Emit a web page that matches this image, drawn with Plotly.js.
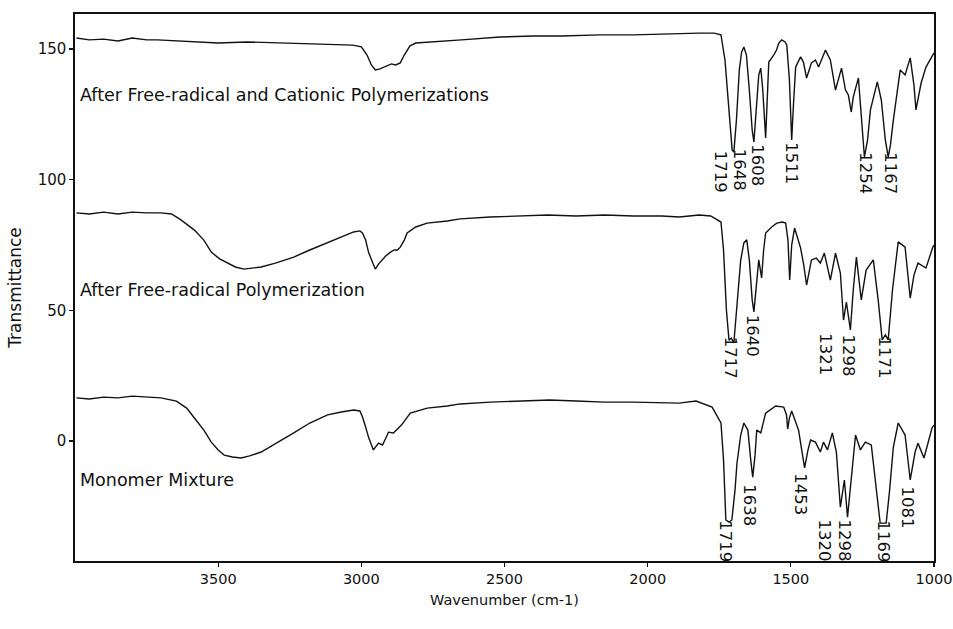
<!DOCTYPE html>
<html>
<head>
<meta charset="utf-8">
<script src="https://cdn.plot.ly/plotly-3.0.1.min.js"></script>
<style>html,body{margin:0;padding:0;background:#fff;}#chart{width:953px;height:629px;}</style>
</head>
<body>
<div id="chart"></div>
<script>
// ---- Data ----
// Series 1: After Free-radical and Cationic Polymerizations
var wnTop = [3995,3950,3900,3850,3800,3750,3712,3650,3600,3500,3400,3300,3200,3100,3030,3000,2980,2965,2951,2935,2915,2895,2880,2864,2850,2830,2810,2750,2650,2516,2400,2300,2168,2050,1950,1890,1820,1768,1744,1730,1715,1705,1699,1690,1680,1672,1664,1655,1645,1635,1629,1620,1612,1605,1598,1588,1582,1577,1560,1550,1542,1532,1520,1514,1505,1497,1490,1483,1466,1456,1445,1428,1414,1403,1379,1362,1344,1323,1309,1299,1289,1282,1264,1254,1243,1232,1222,1198,1184,1170,1160,1152,1142,1118,1101,1083,1070,1063,1045,1028,1010,1000];
var trTop = [154.2,153.5,153.8,153.1,154.2,153.5,153.5,153.1,152.7,152.3,152.7,152.3,151.9,151.5,151.5,150.8,147.7,143.9,142.0,142.4,143.5,144.3,143.9,144.7,147.7,151.2,152.3,152.7,153.5,154.6,155.0,155.0,155.4,155.4,155.8,156.1,156.1,156.1,155.4,145.8,122.8,111.4,110.6,122.8,141.9,148.8,150.8,147.7,134.3,119.0,114.4,126.7,140.1,142.7,134.3,116.0,130.5,145.0,147.7,149.6,152.3,153.5,152.7,151.5,138.2,115.2,130.5,143.1,147.0,145.0,138.9,144.7,145.8,143.1,149.6,145.8,134.3,142.7,134.3,132.4,125.9,131.6,138.9,122.8,108.7,115.2,126.7,137.4,130.5,115.2,108.7,113.3,122.8,142.0,140.1,146.6,136.2,126.7,137.0,143.1,146.6,148.5];

// Series 2: After Free-radical Polymerization
var wnMid = [3995,3950,3900,3850,3800,3750,3700,3663,3630,3583,3550,3524,3495,3465,3440,3410,3380,3350,3300,3236,3180,3118,3070,3027,3005,2996,2985,2975,2960,2951,2940,2933,2915,2898,2885,2874,2864,2850,2840,2810,2770,2700,2655,2550,2450,2350,2250,2150,2050,1950,1890,1820,1780,1744,1735,1725,1716,1708,1699,1690,1675,1664,1654,1645,1635,1629,1620,1612,1602,1595,1588,1567,1549,1530,1518,1510,1504,1497,1487,1466,1455,1445,1428,1411,1397,1383,1362,1344,1327,1316,1306,1292,1282,1271,1254,1237,1212,1195,1181,1170,1160,1145,1125,1101,1083,1070,1056,1028,1004,1000];
var trMid = [87.3,86.9,87.6,86.9,87.6,87.3,87.3,86.9,84.6,80.7,76.9,72.3,69.7,68.1,66.6,65.8,66.2,66.6,68.1,70.4,73.1,75.8,78.1,80.0,80.4,79.6,76.9,72.3,68.1,65.8,67.7,68.5,70.8,72.3,73.1,73.1,74.2,76.9,79.6,81.9,83.4,84.2,85.0,85.7,86.1,86.5,86.1,86.5,86.1,86.1,85.7,86.5,86.1,83.8,73.1,50.1,38.6,39.4,37.5,50.1,69.3,75.8,77.0,69.3,54.0,49.4,61.6,69.3,62.4,73.1,79.6,81.9,83.4,83.8,83.4,76.9,61.6,75.0,81.5,73.9,67.4,59.7,69.3,70.0,68.1,71.9,61.6,71.9,64.3,46.3,53.2,42.5,57.8,70.4,54.0,65.4,69.3,54.0,38.7,40.6,38.7,57.8,76.2,74.2,54.7,63.5,68.1,66.2,74.2,75.0];

// Series 3: Monomer Mixture
var wnBot = [3995,3950,3900,3850,3800,3750,3700,3646,3610,3583,3550,3524,3500,3479,3450,3420,3390,3350,3300,3236,3180,3118,3070,3027,3005,2996,2985,2975,2958,2940,2926,2905,2888,2860,2829,2770,2700,2655,2550,2450,2342,2250,2150,2050,1950,1890,1831,1775,1744,1735,1727,1716,1706,1695,1688,1675,1664,1650,1640,1633,1625,1619,1605,1588,1553,1525,1515,1511,1505,1497,1473,1460,1452,1440,1431,1414,1397,1386,1372,1355,1341,1327,1313,1302,1290,1274,1257,1240,1219,1200,1188,1167,1155,1142,1125,1101,1083,1066,1056,1035,1014,1007,1000];
var trBot = [16.5,16.1,16.8,16.5,17.2,16.8,16.5,15.3,12.6,8.8,4.2,-0.4,-3.4,-5.4,-6.1,-6.5,-5.7,-4.2,-1.1,3.1,6.9,10.0,11.1,11.9,11.5,9.2,5.4,1.5,-3.4,-0.8,-1.5,3.4,3.1,6.1,10.7,12.6,13.4,14.2,14.9,15.3,15.7,15.3,14.9,14.9,14.5,14.5,15.3,13.0,6.9,-7.3,-30.2,-31.0,-30.2,-18.8,-8.4,2.3,6.9,4.2,-7.3,-13.8,-5.4,4.2,3.1,10.7,13.4,13.0,10.0,4.6,8.8,11.5,4.2,-5.4,-10.3,-3.4,0.4,-0.4,-4.2,-0.4,-3.4,3.1,-4.2,-25.3,-14.9,-29.1,-14.9,2.3,-3.4,-0.4,-1.5,-18.8,-31.4,-31.4,-18.8,-2.3,6.9,2.3,-14.9,-4.2,-0.8,-6.5,1.5,5.0,6.1];

// Series names and where they are written
var seriesNames = ["After Free-radical and Cationic Polymerizations", "After Free-radical Polymerization", "Monomer Mixture"];
var seriesNameY = [132.4, 57.8, -14.9];

// Peak labels (text, wavenumber of label centre, transmittance of label centre)
var peakText = ["1719","1648","1608","1511","1254","1167",
                "1717","1640","1321","1298","1171",
                "1719","1638","1453","1320","1298","1169","1081"];
var peakX = [1743,1677,1615,1500,1242,1155,
             1712,1635,1378,1298,1172,
             1727,1643,1465,1382,1312,1176,1092];
var peakY = [102.9,103.7,105.6,106.4,102.6,102.6,
             31.8,40.2,33.3,32.9,32.1,
             -38.3,-24.5,-20.3,-37.9,-37.9,-38.3,-25.3];

// Axis ticks
var xTicks = [3500,3000,2500,2000,1500,1000];
var yTicks = [0,50,100,150];

// ---- Build the chart ----
var FONT = "DejaVu Sans, Liberation Sans, sans-serif";
var INK = "#111";
var lineStyle = {color:INK, width:1.4};
var traces = [
  {x: wnTop, y: trTop, mode:"lines", line: lineStyle, name: seriesNames[0]},
  {x: wnMid, y: trMid, mode:"lines", line: lineStyle, name: seriesNames[1]},
  {x: wnBot, y: trBot, mode:"lines", line: lineStyle, name: seriesNames[2]}
];

var annotations = [];
for (var i = 0; i < seriesNames.length; i++) {
  annotations.push({x: 3988, y: seriesNameY[i], xref:"x", yref:"y", text: seriesNames[i],
    showarrow:false, xanchor:"left", yanchor:"middle", font:{family:FONT, size:17.5, color:INK}});
}
for (var j = 0; j < peakText.length; j++) {
  annotations.push({x: peakX[j], y: peakY[j], xref:"x", yref:"y", text: peakText[j],
    showarrow:false, textangle:90, xanchor:"center", yanchor:"middle",
    font:{family:FONT, size:16.5, color:INK}});
}

var layout = {
  width: 953, height: 629,
  margin: {l:75, r:19, t:14, b:68},
  paper_bgcolor:"#fff", plot_bgcolor:"#fff",
  showlegend:false,
  font:{family:FONT, color:INK},
  xaxis:{
    range:[4000,1000], tickvals:xTicks, ticks:"outside", ticklen:4, tickwidth:1.2, tickcolor:INK,
    showline:true, mirror:true, linecolor:INK, linewidth:1.6, showgrid:false, zeroline:false,
    ticklabeloverflow:"allow",
    tickfont:{family:FONT, size:14.5, color:INK},
    title:{text:"Wavenumber (cm-1)", font:{family:FONT, size:14.5, color:INK}, standoff:9}
  },
  yaxis:{
    range:[-45.9,163.4], tickvals:yTicks, ticks:"outside", ticklen:4, tickwidth:1.2, tickcolor:INK,
    showline:true, mirror:true, linecolor:INK, linewidth:1.6, showgrid:false, zeroline:false,
    tickfont:{family:FONT, size:15, color:INK},
    title:{text:"Transmittance", font:{family:FONT, size:17, color:INK}, standoff:12}
  },
  annotations: annotations
};

Plotly.newPlot("chart", traces, layout, {displayModeBar:false, staticPlot:true});
</script>
</body>
</html>
